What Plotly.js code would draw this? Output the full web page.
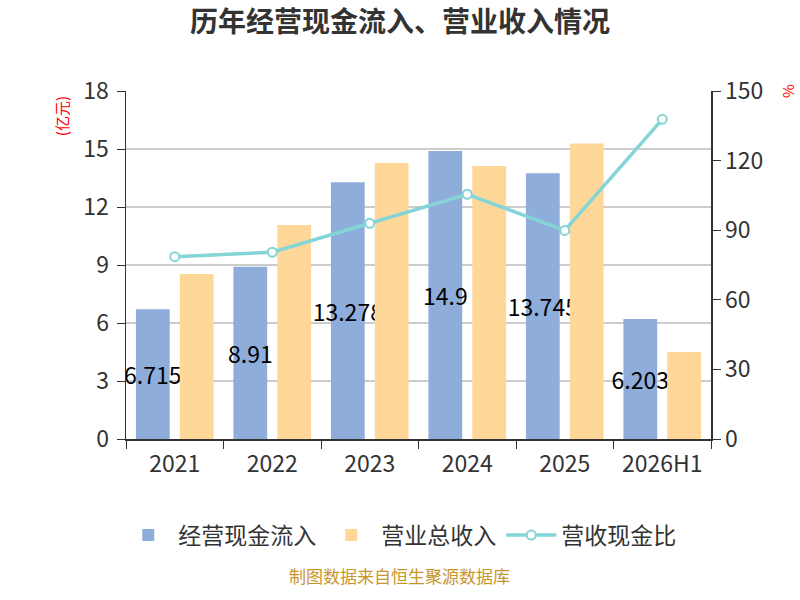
<!DOCTYPE html>
<html>
<head>
<meta charset="utf-8">
<script src="https://cdn.plot.ly/plotly-3.0.1.min.js"></script>
<style>
  body { margin: 0; background: #fff; }
  #chart { width: 800px; height: 600px; }
</style>
</head>
<body>
<div id="chart"></div>
<script>
// chart values
var years = ['2021', '2022', '2023', '2024', '2025', '2026H1'];
var cashInflow = [6.715, 8.91, 13.278, 14.9, 13.745, 6.203];
var revenue = [8.54, 11.07, 14.28, 14.12, 15.29, 4.50];
var cashRatio = [78.6, 80.5, 93.0, 105.5, 89.9, 137.8];

var FONT = '"Noto Sans CJK SC", "Noto Sans", sans-serif';

var traces = [
  {
    x: years,
    y: cashInflow,
    type: 'bar',
    name: '经营现金流入',
    marker: { color: '#8eaddb' },
    text: cashInflow.map(String),
    textposition: 'inside',
    insidetextanchor: 'middle',
    textangle: 0,
    constraintext: 'none',
    textfont: { size: 23, color: '#000', family: FONT },
    hoverinfo: 'y'
  },
  {
    x: years,
    y: revenue,
    type: 'bar',
    name: '营业总收入',
    marker: { color: '#ffd899' },
    hoverinfo: 'y'
  },
  {
    x: years,
    y: cashRatio,
    type: 'scatter',
    mode: 'lines+markers',
    name: '营收现金比',
    yaxis: 'y2',
    line: { color: '#85d4d6', width: 3.5 },
    marker: { color: '#fff', size: 9, symbol: 'circle', line: { color: '#85d4d6', width: 2 } }
  }
];

var layout = {
  width: 800,
  height: 600,
  paper_bgcolor: '#fff',
  plot_bgcolor: '#fff',
  font: { family: FONT, color: '#333', size: 23 },
  margin: { l: 126, r: 89, t: 91, b: 161, autoexpand: false },
  barmode: 'group',
  bargap: 0.1,
  bargroupgap: 0.23,
  uniformtext: { minsize: 23, mode: 'show' },
  showlegend: true,
  title: {
    text: '<b>历年经营现金流入、营业收入情况</b>',
    font: { size: 28, color: '#333', family: FONT },
    x: 0.5,
    xref: 'container',
    y: 0.963,
    yref: 'container',
    yanchor: 'middle'
  },
  xaxis: {
    type: 'category',
    showline: true,
    linecolor: '#333',
    linewidth: 1.5,
    ticks: 'outside',
    tickson: 'boundaries',
    ticklen: 8,
    tickcolor: '#333',
    tickangle: 0,
    ticklabelstandoff: 4,
    tickfont: { size: 23, color: '#333' },
    showgrid: false
  },
  yaxis: {
    range: [0, 18],
    dtick: 3,
    showline: true,
    linecolor: '#333',
    linewidth: 1.5,
    ticks: 'outside',
    ticklen: 8,
    tickcolor: '#333',
    gridcolor: '#cccccc',
    gridwidth: 1.5,
    zeroline: false,
    ticklabelstandoff: 3,
    tickfont: { size: 23, color: '#333' }
  },
  yaxis2: {
    range: [0, 150],
    dtick: 30,
    overlaying: 'y',
    side: 'right',
    showline: true,
    linecolor: '#333',
    linewidth: 1.5,
    ticks: 'outside',
    ticklen: 8,
    tickcolor: '#333',
    showgrid: false,
    zeroline: false,
    tickfont: { size: 23, color: '#333' }
  },
  legend: {
    orientation: 'h',
    x: 0.468,
    xanchor: 'center',
    y: -0.276,
    yanchor: 'middle',
    itemwidth: 50,
    font: { size: 23, color: '#333' }
  },
  annotations: [
    {
      text: '(亿元)',
      xref: 'paper', yref: 'paper',
      x: -0.11, y: 0.99,
      xanchor: 'center',
      yanchor: 'top',
      textangle: -90,
      showarrow: false,
      font: { size: 15, color: '#ff0000' }
    },
    {
      text: '%',
      xref: 'paper', yref: 'paper',
      x: 1.13, y: 1.0,
      xanchor: 'center',
      yanchor: 'middle',
      textangle: -90,
      showarrow: false,
      font: { size: 15, color: '#ff0000' }
    },
    {
      text: '制图数据来自恒生聚源数据库',
      xref: 'paper', yref: 'paper',
      x: 0.468, y: -0.434,
      xanchor: 'center',
      showarrow: false,
      font: { size: 17, color: '#c8962a' }
    }
  ]
};

Plotly.newPlot('chart', traces, layout, { displayModeBar: false, staticPlot: true });
</script>
</body>
</html>
